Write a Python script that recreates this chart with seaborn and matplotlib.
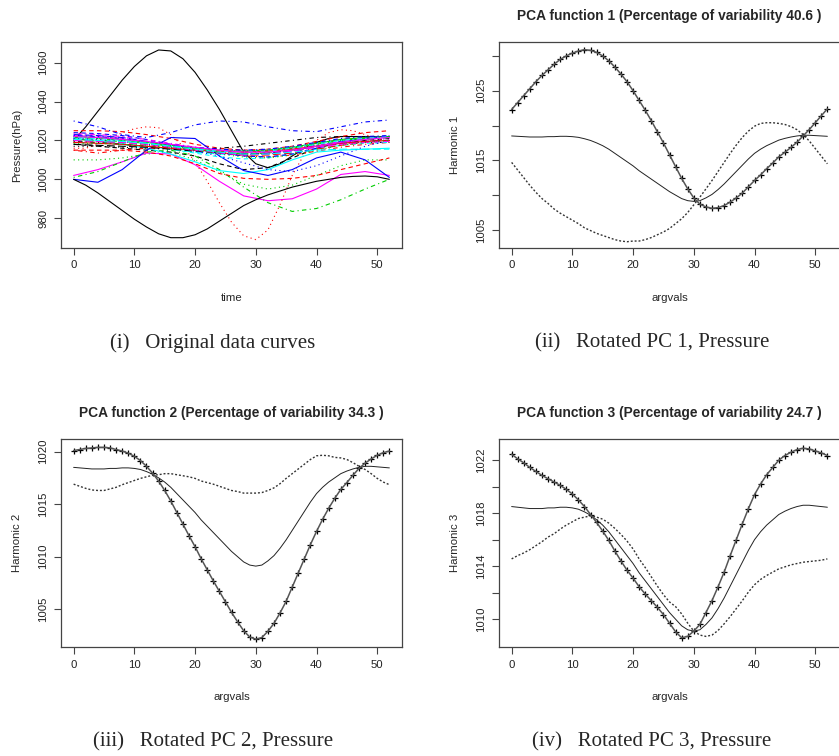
import numpy as np
import pandas as pd
import matplotlib
matplotlib.use("Agg")
import matplotlib.pyplot as plt
import seaborn as sns

sns.set_style("ticks")
plt.rcParams["font.family"] = ["Liberation Sans", "DejaVu Sans"]

# ---- panel (i): original pressure curves (hPa) ----
t_fine = list(range(0, 53, 2))     # 27 points
t_coarse = list(range(0, 53, 4))   # 14 points

# outlying curves, read on the fine grid
st00 = [1020, 1027, 1035, 1043, 1051, 1058, 1063.5, 1066.5, 1066, 1062, 1055, 1046, 1036, 1025,
        1014, 1008, 1006, 1008, 1012, 1016, 1019, 1021, 1022, 1022, 1022, 1022, 1022]
st07 = [1016, 1016, 1018, 1021, 1024, 1026, 1027, 1026.5, 1023, 1017, 1009, 999, 988, 978,
        971, 969, 974, 987, 1002, 1013, 1020, 1024, 1025.5, 1025, 1023, 1021, 1019]
st30 = [1000, 997, 993, 988.5, 984, 979.5, 975.5, 972, 970, 970, 971.5, 974.5, 978.5, 982.5,
        986.5, 989.5, 992, 994, 996, 997.5, 999, 1000, 1001, 1001.5, 1001.7, 1001.3, 1000]

# remaining curves, read on the coarse grid
st01 = [1025, 1025, 1024.5, 1023, 1021, 1018, 1016, 1015, 1015.5, 1017, 1019.5, 1022, 1024, 1025]
st02 = [1010, 1010, 1011, 1013, 1014, 1010, 1004, 997.5, 995, 997, 1002, 1007, 1010, 1010]
st03 = [1030, 1027, 1023, 1021.5, 1024, 1028, 1030, 1029.5, 1027, 1025, 1024.5, 1027, 1029.5, 1030.5]
st04 = [1020, 1019.5, 1018.5, 1017, 1015.5, 1014, 1013, 1012.5, 1013, 1014.5, 1016.5, 1018.5, 1019.5, 1020]
st05 = [1002, 1005, 1009, 1013.5, 1013, 1007.5, 999, 991.5, 989, 990, 995, 1002.5, 1004, 1002]
st06 = [1018, 1017, 1016, 1015, 1014, 1012, 1008, 1005, 1006, 1011, 1016, 1019, 1020, 1021]
st08 = [1001, 1004, 1009, 1014, 1015, 1012, 1005, 996, 988, 983.5, 985, 989.5, 995, 1000]
st09 = [1023, 1022.5, 1021.5, 1019.5, 1017.5, 1015.5, 1014, 1013, 1013, 1014.5, 1017, 1019.5, 1021, 1022]
st10 = [1021, 1020, 1018, 1016, 1013, 1009, 1004.5, 1003, 1005, 1010, 1014, 1015, 1015.5, 1016]
st11 = [1022.5, 1022, 1021, 1019.5, 1017.5, 1016, 1015, 1014.5, 1015, 1016.5, 1018.5, 1020.5, 1021.5, 1022]
st12 = [1017, 1017, 1016.5, 1016, 1015.5, 1015, 1014.5, 1014.5, 1015, 1016, 1017.5, 1018.5, 1019, 1019]
st13 = [1015, 1013.5, 1015, 1016, 1016, 1015.5, 1014, 1012, 1011.5, 1012.5, 1014.5, 1016.5, 1018, 1019]
st14 = [1021.5, 1021, 1020, 1018.5, 1017, 1015.5, 1014.5, 1014, 1014.5, 1016, 1018, 1020, 1021, 1021.5]
st15 = [1000, 998.5, 1005, 1015, 1021.5, 1021, 1012, 1004.5, 1002, 1005, 1011, 1014, 1010, 1001]
st16 = [1019, 1018.5, 1018, 1017, 1015.5, 1013.5, 1011.5, 1010.5, 1011, 1013, 1015.5, 1017.5, 1018.5, 1019]
st17 = [1021, 1020.5, 1019.5, 1018, 1016.5, 1015, 1014, 1013.5, 1014, 1015.5, 1017.5, 1019, 1020, 1020.5]
st18 = [1019.5, 1019, 1018, 1017, 1016, 1015.5, 1016, 1017, 1018.5, 1020, 1021.5, 1022, 1022, 1021.5]
st19 = [1020, 1019.5, 1019, 1018, 1016.5, 1015, 1013.5, 1012.5, 1012.5, 1013.5, 1015.5, 1017.5, 1019, 1020]
st20 = [1022, 1021.5, 1020.5, 1019, 1017.5, 1016, 1015, 1014.5, 1015, 1016.5, 1018.5, 1020.5, 1021.5, 1022]
st21 = [1024, 1023.5, 1022.5, 1020.5, 1018, 1015.5, 1013.5, 1012, 1011.5, 1013, 1016, 1019, 1021, 1022.5]
st22 = [1022, 1021.5, 1020.5, 1019, 1017.5, 1016, 1015, 1014.5, 1015, 1016.5, 1018.5, 1020, 1021, 1021.5]
st23 = [1023.5, 1023, 1022, 1020.5, 1018.5, 1016.5, 1015, 1014, 1014, 1015.5, 1017.5, 1019.5, 1021, 1022]
st24 = [1018, 1017.5, 1017, 1016.5, 1015.5, 1014.5, 1013.5, 1013, 1013.5, 1015, 1017, 1018.5, 1019.5, 1020]
st25 = [1019, 1018.5, 1018, 1017, 1016, 1015, 1014.5, 1014, 1014.5, 1015.5, 1017, 1018.5, 1019.5, 1020]
st26 = [1020.5, 1020, 1019.5, 1018.5, 1017, 1015.5, 1014, 1013, 1013.5, 1015, 1017, 1019, 1020.5, 1021.5]
st27 = [1021, 1020.5, 1019.5, 1018, 1016.5, 1014.5, 1012, 1008.5, 1005, 1004, 1007, 1012, 1017, 1020]
st28 = [1021.5, 1021, 1020, 1018.5, 1017, 1015.5, 1014.5, 1014, 1014.5, 1016, 1018, 1020, 1021, 1022]
st29 = [1020, 1019.5, 1019, 1018, 1016.5, 1015, 1013.5, 1012.5, 1013, 1014.5, 1016.5, 1018, 1019, 1019.5]
st31 = [1015, 1015, 1015, 1014, 1012, 1008, 1003, 1000.5, 1000, 1000.5, 1002, 1005, 1008, 1011]
st32 = [1018.5, 1018.5, 1018, 1017.5, 1016.5, 1015, 1013, 1011.5, 1011, 1012.5, 1015, 1017.5, 1019, 1020]
st33 = [1022.5, 1022, 1021, 1019.5, 1018, 1016.5, 1015.5, 1015, 1015.5, 1017, 1019, 1021, 1022, 1022.5]
st34 = [1020.5, 1020, 1019.5, 1018.5, 1017, 1015.5, 1014, 1013, 1013, 1014, 1015, 1015.5, 1015.5, 1015.5]
st35 = [1022, 1021.5, 1020.5, 1019.5, 1018, 1016.5, 1015, 1014, 1014, 1015, 1017, 1019, 1020.5, 1021.5]

stations = [st00, st01, st02, st03, st04, st05, st06, st07, st08, st09, st10, st11,
            st12, st13, st14, st15, st16, st17, st18, st19, st20, st21, st22, st23,
            st24, st25, st26, st27, st28, st29, st30, st31, st32, st33, st34, st35]

# ---- panels (ii)-(iv): mean curve and rotated harmonics ----
t_pca = list(range(0, 53))
mean_curve = [1018.5, 1018.45, 1018.4, 1018.35, 1018.35, 1018.35, 1018.4, 1018.4, 1018.45, 1018.45,
              1018.4, 1018.3, 1018.1, 1017.85, 1017.5, 1017.1, 1016.6, 1016.0, 1015.4, 1014.8,
              1014.2, 1013.5, 1012.9, 1012.3, 1011.7, 1011.1, 1010.5, 1010.0, 1009.5, 1009.2,
              1009.1, 1009.2, 1009.6, 1010.1, 1010.8, 1011.6, 1012.5, 1013.4, 1014.3, 1015.2,
              1016.0, 1016.6, 1017.1, 1017.5, 1017.9, 1018.15, 1018.35, 1018.5, 1018.6, 1018.6,
              1018.55, 1018.5, 1018.45]
harm1 = [3.8, 4.85, 5.9, 6.95, 7.95, 8.85, 9.6, 10.4, 11.05, 11.55,
         12.0, 12.4, 12.8, 12.95, 13.0, 12.9, 12.7, 12.4, 12.0, 11.5,
         10.8, 10.1, 9.3, 8.4, 7.4, 6.4, 5.3, 4.1, 2.9, 1.7,
         0.5, -0.5, -1.3, -2.0, -2.6, -3.1, -3.5, -3.8, -4.0, -4.0,
         -3.9, -3.7, -3.3, -2.9, -2.4, -2.0, -1.5, -0.9, -0.1, 0.8,
         1.85, 2.9, 3.95]
harm2 = [1.6, 1.75, 1.9, 2.0, 2.05, 2.05, 1.95, 1.8, 1.6, 1.4,
         1.15, 0.85, 0.5, 0.1, -0.3, -0.8, -1.3, -1.8, -2.3, -2.8,
         -3.25, -3.7, -4.15, -4.6, -5.0, -5.4, -5.8, -6.2, -6.55, -6.85,
         -6.95, -6.9, -6.7, -6.45, -6.15, -5.85, -5.4, -4.95, -4.5, -4.05,
         -3.6, -3.05, -2.5, -1.95, -1.5, -1.1, -0.6, -0.1, 0.3, 0.7,
         1.1, 1.4, 1.6]
harm3 = [3.95, 3.65, 3.4, 3.1, 2.8, 2.5, 2.2, 1.95, 1.65, 1.35,
         1.05, 0.7, 0.4, 0.05, -0.2, -0.45, -0.65, -0.85, -1.0, -1.1,
         -1.1, -1.05, -1.0, -0.9, -0.8, -0.75, -0.8, -0.95, -0.9, -0.5,
         0.0, 0.4, 0.9, 1.3, 1.65, 1.95, 2.3, 2.6, 2.9, 3.15,
         3.4, 3.6, 3.8, 3.95, 4.1, 4.2, 4.25, 4.3, 4.3, 4.25,
         4.15, 4.05, 3.9]
pct_var = [40.6, 34.3, 24.7]
captions = ["(i)   Original data curves", "(ii)   Rotated PC 1, Pressure",
            "(iii)   Rotated PC 2, Pressure", "(iv)   Rotated PC 3, Pressure"]

# R matplot default colours / line types
r_cols = ["black", "red", "#00CD00", "blue", "cyan", "magenta"]
r_ltys = ["", (4, 3), (1, 3), (1, 3, 4, 3), (7, 3)]

W, H = 839, 756
fig = plt.figure(figsize=(W / 100, H / 100), dpi=100)

def px_axes(x0, y0, x1, y1):
    return fig.add_axes([x0 / W, 1 - y1 / H, (x1 - x0) / W, (y1 - y0) / H])

ax1 = px_axes(61, 42, 402, 248)
ax2 = px_axes(499, 42, 840, 248)
ax3 = px_axes(61, 439, 402, 647)
ax4 = px_axes(499, 439, 840, 647)

# panel (i)
rows = []
for i, vals in enumerate(stations):
    grid = t_fine if len(vals) == len(t_fine) else t_coarse
    for t, v in zip(grid, vals):
        rows.append({"time": t, "p": v, "curve": f"c{i:02d}"})
df = pd.DataFrame(rows)
names = [f"c{i:02d}" for i in range(len(stations))]
pal = {n: r_cols[i % 6] for i, n in enumerate(names)}
dsh = {n: r_ltys[i % 5] for i, n in enumerate(names)}
sns.lineplot(data=df, x="time", y="p", hue="curve", style="curve", palette=pal,
             dashes=dsh, linewidth=0.8, legend=False, estimator=None, sort=False, ax=ax1)
ax1.set_ylim(964.7, 1070.6)
ax1.set_yticks([980, 1000, 1020, 1040, 1060])
ax1.set_xlabel("time")
ax1.set_ylabel("Pressure(hPa)")

# panels (ii)-(iv): mean (solid), mean + harmonic ("+"), mean - harmonic ("-")
mean_arr = np.array(mean_curve)
specs = [(ax2, harm1, (1002.4, 1032.0), [1005, 1010, 1015, 1020, 1025, 1030], [1005, 1015, 1025]),
         (ax3, harm2, (1001.4, 1021.2), [1005, 1010, 1015, 1020], [1005, 1010, 1015, 1020]),
         (ax4, harm3, (1007.9, 1023.6), [1010, 1012, 1014, 1016, 1018, 1020, 1022], [1010, 1014, 1018, 1022])]
for k, (ax, harm, ylim, yt, ylab) in enumerate(specs):
    h = np.array(harm)
    sns.lineplot(x=t_pca, y=mean_arr, color="#222222", linewidth=0.7, ax=ax)
    sns.lineplot(x=t_pca, y=mean_arr - h, color="#333333", linewidth=1.0,
                 dashes=[(1.4, 1.4)], style=[0] * len(t_pca), legend=False, ax=ax)
    sns.lineplot(x=t_pca, y=mean_arr + h, color="#555555", linewidth=1.1, ax=ax)
    sns.scatterplot(x=t_pca, y=mean_arr + h, marker="+", color="black", s=16,
                    linewidth=0.9, ax=ax)
    ax.set_ylim(*ylim)
    ax.set_yticks(yt)
    ax.set_yticklabels([str(v) if v in ylab else "" for v in yt])
    ax.set_xlabel("argvals")
    ax.set_ylabel(f"Harmonic {k + 1}")
    ax.set_title(f"PCA function {k + 1} (Percentage of variability {pct_var[k]} )",
                 fontsize=9.9, fontweight="bold", pad=16)

for ax in [ax1, ax2, ax3, ax4]:
    ax.set_xlim(-2.08, 54.08)
    ax.set_xticks([0, 10, 20, 30, 40, 50])
    for s in ax.spines.values():
        s.set_visible(True)
        s.set_color("#444444")
        s.set_linewidth(0.9)
    ax.tick_params(direction="out", length=5, width=0.8, colors="#444444",
                   labelcolor="#222222", labelsize=8.2, pad=4)
    ax.tick_params(axis="y", labelrotation=90)
    for lab in ax.get_yticklabels():
        lab.set_va("center")
    ax.xaxis.label.set_size(8.2)
    ax.yaxis.label.set_size(8.2)
    ax.xaxis.labelpad = 16
    ax.yaxis.labelpad = 12

# sub-figure captions
for (cx, cy), txt in zip([(213, 343), (652, 343), (213, 742), (652, 742)], captions):
    fig.text(cx / W, 1 - cy / H, txt, ha="center", va="center", fontsize=15,
             family=["Liberation Serif", "DejaVu Serif"])

fig.savefig("out.png", dpi=100)
